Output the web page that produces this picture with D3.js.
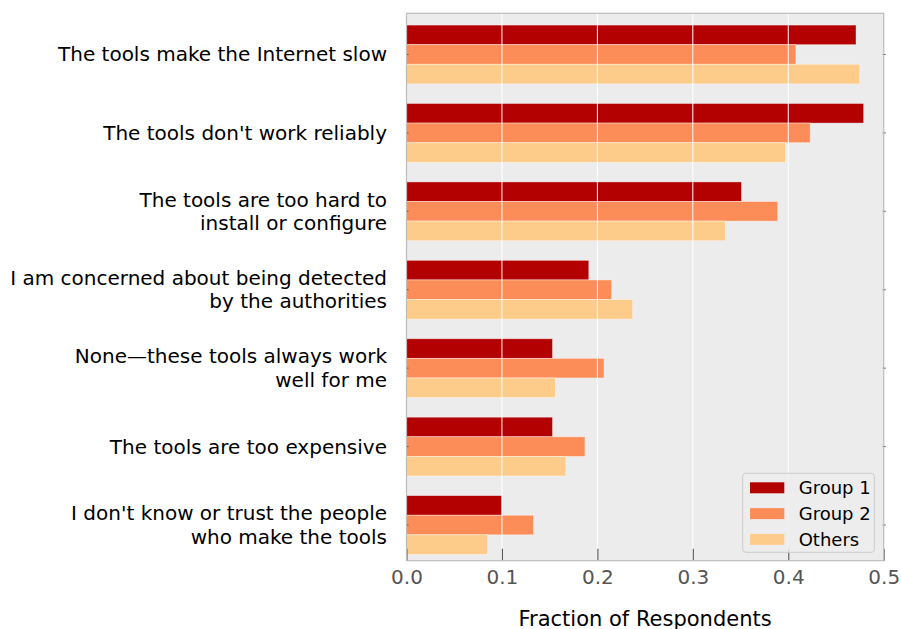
<!DOCTYPE html>
<html>
<head>
<meta charset="utf-8">
<script src="https://cdn.jsdelivr.net/npm/d3@7"></script>
<style>
  body { margin: 0; background: #fff; }
  svg { display: block; font-family: "DejaVu Sans", sans-serif; }
</style>
</head>
<body>
<div id="chart"></div>
<script>
// reasons, top to bottom
const categories = [
  ["The tools make the Internet slow"],
  ["The tools don't work reliably"],
  ["The tools are too hard to", "install or configure"],
  ["I am concerned about being detected", "by the authorities"],
  ["None\u2014these tools always work", "well for me"],
  ["The tools are too expensive"],
  ["I don't know or trust the people", "who make the tools"]
]
const seriesNames = ["Group 1", "Group 2", "Others"]
const group1 = [0.471, 0.479, 0.351, 0.191, 0.153, 0.153, 0.100]
const group2 = [0.408, 0.423, 0.389, 0.215, 0.207, 0.187, 0.133]
const others = [0.475, 0.397, 0.334, 0.237, 0.156, 0.167, 0.085]
const xTicks = [0.0, 0.1, 0.2, 0.3, 0.4, 0.5]
const colors = ["#b30000", "#fc8d59", "#fdcc8a"]

const width = 901, height = 629
const margin = { top: 13.3, right: 17.3, bottom: 68.3, left: 406.5 }
const innerW = width - margin.left - margin.right
const innerH = height - margin.top - margin.bottom

const svg = d3.select("#chart").append("svg")
  .attr("width", width)
  .attr("height", height)

const g = svg.append("g")
  .attr("transform", `translate(${margin.left},${margin.top})`)

const x = d3.scaleLinear().domain([0, 0.5]).range([0, innerW])
// each category takes one unit, bars are 0.25 tall
const y = d3.scaleLinear().domain([-0.15, 6.83]).range([0, innerH])
const barH = 0.25

g.append("rect")
  .attr("width", innerW)
  .attr("height", innerH)
  .style("fill", "#ececec")

const series = [group1, group2, others]
series.forEach((vals, s) => {
  g.append("g").selectAll("rect")
    .data(vals)
    .join("rect")
    .attr("x", 0)
    .attr("y", (d, i) => y(i + s * barH))
    .attr("width", d => x(d))
    .attr("height", y(barH) - y(0))
    .style("fill", colors[s])
    .style("stroke", "#ffffff")
    .style("stroke-opacity", 0.5)
    .style("stroke-width", 0.8)
})

// white grid on top of bars
g.append("g").selectAll("line")
  .data(xTicks.slice(1, -1))
  .join("line")
  .attr("x1", d => x(d)).attr("x2", d => x(d))
  .attr("y1", 0).attr("y2", innerH)
  .style("stroke", "#ffffff")
  .style("stroke-width", 1)

// x axis
const xAxis = g.append("g")
  .attr("transform", `translate(0,${innerH})`)
  .call(d3.axisBottom(x).tickValues(xTicks).tickFormat(d3.format(".1f")).tickSizeInner(-12).tickSizeOuter(0).tickPadding(9))
xAxis.select(".domain").remove()
xAxis.selectAll(".tick line").style("stroke", "#555").style("stroke-width", 1.1)
xAxis.selectAll(".tick text")
  .style("font-size", "20px")
  .style("fill", "#555")
  .style("font-family", "DejaVu Sans")

// y ticks on both sides
const catIdx = d3.range(categories.length)
g.append("g").selectAll("line")
  .data(catIdx)
  .join("line")
  .attr("x1", 0).attr("x2", 2)
  .attr("y1", d => y(d + 1.5 * barH)).attr("y2", d => y(d + 1.5 * barH))
  .style("stroke", "#555")
g.append("g").selectAll("line")
  .data(catIdx)
  .join("line")
  .attr("x1", innerW - 1).attr("x2", innerW + 2)
  .attr("y1", d => y(d + 1.5 * barH)).attr("y2", d => y(d + 1.5 * barH))
  .style("stroke", "#555")

// category labels
const lineH = 23.5
const labels = g.append("g").selectAll("text")
  .data(categories)
  .join("text")
  .attr("text-anchor", "end")
  .style("font-size", "20px")
  .style("fill", "#000")
  .attr("transform", (d, i) => `translate(-19.5,${y(i + 1.5 * barH)})`)
labels.selectAll("tspan")
  .data(d => d.map((t, k) => ({ t, k, n: d.length })))
  .join("tspan")
  .attr("x", 0)
  .attr("y", d => (d.k - (d.n - 1) / 2) * lineH)
  .attr("dy", "0.35em")
  .text(d => d.t)

// frame
g.append("rect")
  .attr("width", innerW)
  .attr("height", innerH)
  .style("fill", "none")
  .style("stroke", "#bcbcbc")
  .style("stroke-width", 1.2)

// x label
svg.append("text")
  .attr("x", margin.left + innerW / 2)
  .attr("y", 625.5)
  .attr("text-anchor", "middle")
  .style("font-size", "21px")
  .style("fill", "#000")
  .text("Fraction of Respondents")

// legend
const legend = svg.append("g")
  .attr("transform", "translate(742.7,473.3)")
legend.append("rect")
  .attr("width", 131.6)
  .attr("height", 79)
  .attr("rx", 3)
  .style("fill", "#eeeeee")
  .style("fill-opacity", 0.8)
  .style("stroke", "#cccccc")
legend.selectAll("rect.sw")
  .data(seriesNames)
  .join("rect")
  .attr("class", "sw")
  .attr("x", 7.3)
  .attr("y", (d, i) => 9 + i * 25.8)
  .attr("width", 34.3)
  .attr("height", 11)
  .style("fill", (d, i) => colors[i])
legend.selectAll("text")
  .data(seriesNames)
  .join("text")
  .attr("x", 56)
  .attr("y", (d, i) => 14.5 + i * 25.8)
  .attr("dy", "0.35em")
  .style("font-size", "18px")
  .text(d => d)
</script>
</body>
</html>
